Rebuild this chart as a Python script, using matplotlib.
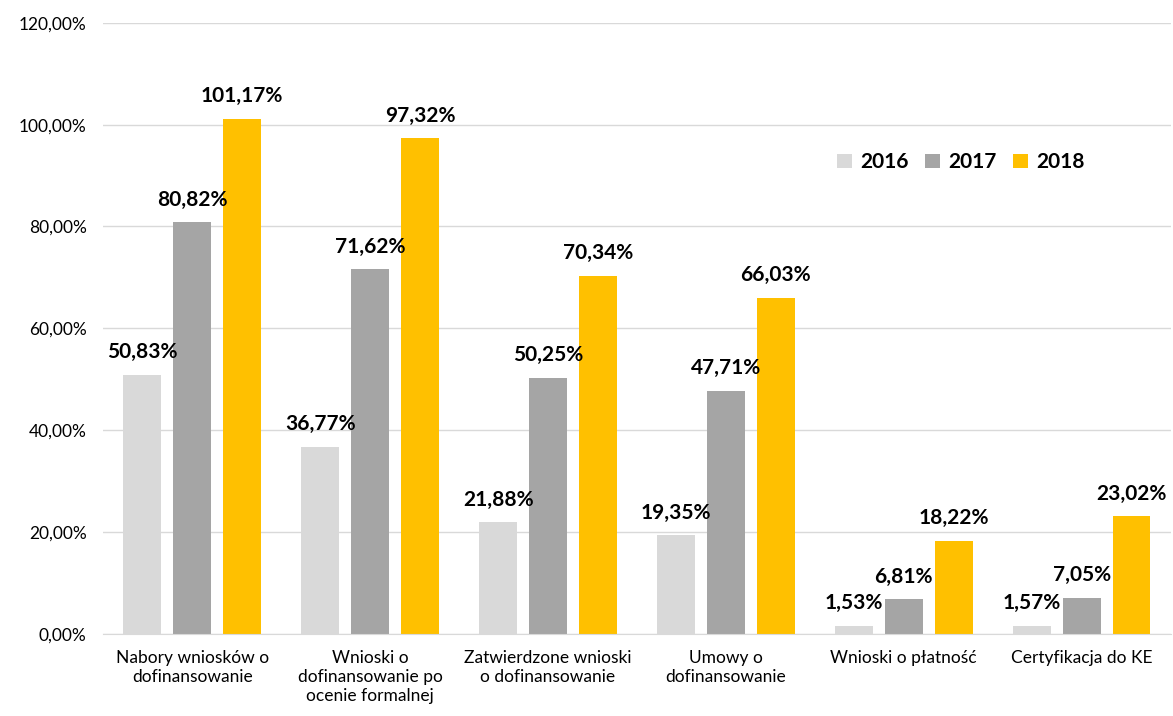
import matplotlib.pyplot as plt
import numpy as np

plt.rcParams['font.family'] = ['Lato', 'DejaVu Sans']

categories = ["Nabory wniosków o\ndofinansowanie",
              "Wnioski o\ndofinansowanie po\nocenie formalnej",
              "Zatwierdzone wnioski\no dofinansowanie",
              "Umowy o\ndofinansowanie",
              "Wnioski o płatność",
              "Certyfikacja do KE"]
years = ["2016", "2017", "2018"]
v2016 = [50.83, 36.77, 21.88, 19.35, 1.53, 1.57]
v2017 = [80.82, 71.62, 50.25, 47.71, 6.81, 7.05]
v2018 = [101.17, 97.32, 70.34, 66.03, 18.22, 23.02]
colors = ["#D9D9D9", "#A5A5A5", "#FFC000"]


def pct(v):
    return ("%.2f%%" % v).replace(".", ",")


fig = plt.figure(figsize=(11.73, 7.16), dpi=100)
ax = fig.add_axes([0.088, 0.115, 0.91, 0.853])

x = np.arange(len(categories))
width = 0.213
step = 0.28
for i, (vals, c, y) in enumerate(zip([v2016, v2017, v2018], colors, years)):
    pos = x + (i - 1) * step
    ax.bar(pos, vals, width, color=c, label=y, zorder=2)
    for p, v in zip(pos, vals):
        ax.annotate(pct(v), (p, v), xytext=(0, 9), textcoords="offset points",
                    ha="center", va="bottom", fontsize=15, fontweight="bold")

ax.set_xlim(-0.5, len(categories) - 0.5)
ax.set_ylim(0, 120)
ax.set_yticks(np.arange(0, 121, 20))
ax.set_yticklabels([pct(t) for t in np.arange(0, 121, 20)], fontsize=12.5)
ax.set_xticks(x)
ax.set_xticklabels(categories, fontsize=12.5, va="top")
ax.tick_params(length=0, pad=12)
ax.tick_params(axis="x", pad=12)
ax.yaxis.grid(True, color="#D9D9D9", lw=1, zorder=0)
for s in ["top", "right", "left"]:
    ax.spines[s].set_visible(False)
ax.spines["bottom"].set_color("#D9D9D9")

leg = ax.legend(loc="center left", bbox_to_anchor=(0.68, 0.772), ncol=3, frameon=False,
                prop={"size": 15, "weight": "bold"}, handlelength=0.7, handleheight=0.7,
                columnspacing=0.8, handletextpad=0.4, borderaxespad=0)

fig.savefig("out.png", dpi=100)
